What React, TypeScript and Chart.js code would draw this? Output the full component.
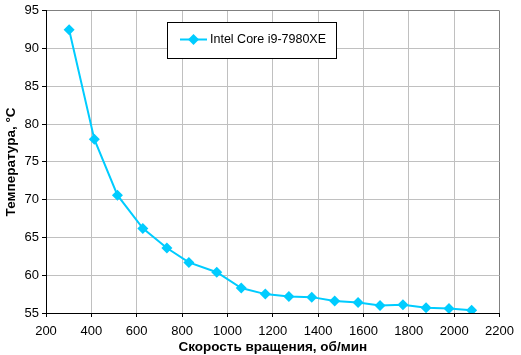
import React, { useEffect, useRef } from "react";
import { Chart, registerables } from "chart.js";

Chart.register(...registerables);

const seriesLabel = "Intel Core i9-7980XE";
const rpm = [302, 413, 515, 627, 733, 830, 953, 1061, 1167, 1271, 1372, 1473, 1576, 1673, 1774, 1876, 1977, 2077];
const temps = [92.5, 78.0, 70.6, 66.2, 63.6, 61.7, 60.4, 58.3, 57.5, 57.2, 57.1, 56.6, 56.4, 56.0, 56.1, 55.7, 55.6, 55.35];
const xTitle = "Скорость вращения, об/мин";
const yTitle = "Температура, °С";

const FONT = "'Liberation Sans', Arial, sans-serif";
const LINE = "#00CCFF";

const legendPlugin = {
  id: "boxLegend",
  afterDraw(chart: any) {
    const ctx = chart.ctx;
    const ds = chart.data.datasets[0];
    ctx.save();
    ctx.fillStyle = "#fff";
    ctx.fillRect(167, 22, 169, 36);
    ctx.strokeStyle = "#000";
    ctx.lineWidth = 1;
    ctx.strokeRect(167.5, 22.5, 169, 36);
    ctx.strokeStyle = LINE;
    ctx.lineWidth = 2;
    ctx.beginPath();
    ctx.moveTo(180, 39.5);
    ctx.lineTo(207, 39.5);
    ctx.stroke();
    ctx.fillStyle = LINE;
    ctx.beginPath();
    const cx = 193.5, cy = 39.5, r = 5.5;
    ctx.moveTo(cx, cy - r);
    ctx.lineTo(cx + r, cy);
    ctx.lineTo(cx, cy + r);
    ctx.lineTo(cx - r, cy);
    ctx.closePath();
    ctx.fill();
    ctx.fillStyle = "#000";
    ctx.font = `12.5px ${FONT}`;
    ctx.textBaseline = "middle";
    ctx.textAlign = "left";
    ctx.fillText(ds.label, 210, 40);
    ctx.restore();
  },
};

export default function App() {
  const ref = useRef<HTMLCanvasElement>(null);
  useEffect(() => {
    document.body.style.margin = "0";
    const chart = new Chart(ref.current!, {
      type: "line",
      data: {
        datasets: [
          {
            label: seriesLabel,
            data: rpm.map((x, i) => ({ x, y: temps[i] })),
            borderColor: LINE,
            backgroundColor: LINE,
            borderWidth: 2,
            pointStyle: "rectRot",
            pointRadius: 5.5,
            pointBorderWidth: 0,
            tension: 0,
          },
        ],
      },
      options: {
        responsive: false,
        animation: false,
        devicePixelRatio: 1,
        layout: { padding: { top: 5, right: 13, left: 0, bottom: 0 } },
        plugins: { legend: { display: false }, tooltip: { enabled: false } },
        scales: {
          x: {
            type: "linear",
            min: 200,
            max: 2200,
            afterFit: (s: any) => { s.height = 42; },
            ticks: {
              stepSize: 200,
              color: "#000",
              font: { family: FONT, size: 13 },
              padding: 7,
              maxRotation: 0,
              callback: (v: any) => String(v),
            },
            grid: {
              color: (c: any) => (c.tick && c.tick.value === 2200 ? "#808080" : "#c0c0c0"),
              tickColor: "#000",
              tickLength: 4,
              lineWidth: 1,
            },
            border: { color: "#000", width: 1 },
            title: { display: true, text: xTitle, color: "#000", font: { family: FONT, size: 13.5, weight: "bold" }, padding: { top: 0, bottom: 0 } },
          },
          y: {
            min: 55,
            max: 95,
            afterFit: (s: any) => { s.width = 46; },
            ticks: { stepSize: 5, color: "#000", font: { family: FONT, size: 13 }, padding: 3 },
            grid: {
              color: (c: any) => (c.tick && c.tick.value === 95 ? "#808080" : "#c0c0c0"),
              tickColor: "#000",
              tickLength: 4,
              lineWidth: 1,
            },
            border: { color: "#000", width: 1 },
            title: { display: true, text: yTitle, color: "#000", font: { family: FONT, size: 13.5, weight: "bold" }, padding: { top: 3, bottom: 0 } },
          },
        },
      },
      plugins: [legendPlugin],
    } as any);
    return () => chart.destroy();
  }, []);
  return (
    <div style={{ position: "absolute", left: 0, top: 0, width: 521, height: 355 }}>
      <canvas ref={ref} width={521} height={355} />
    </div>
  );
}
